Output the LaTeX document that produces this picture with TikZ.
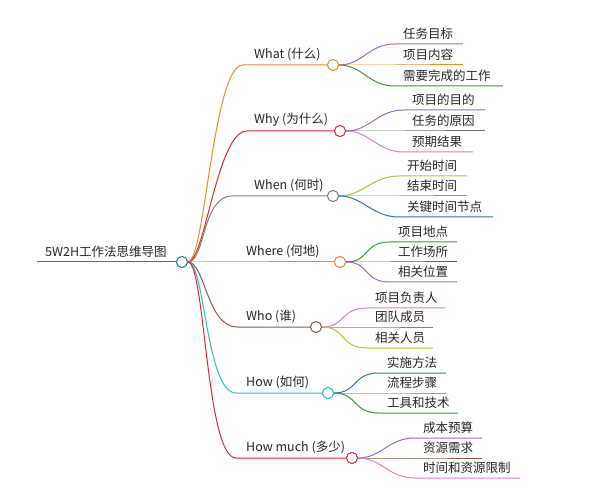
\documentclass[tikz,border=0pt]{standalone}
\usepackage{fontspec}
\setmainfont{Noto Sans CJK SC}
\definecolor{cBlue}{HTML}{2E75B6}
\definecolor{cOrange}{HTML}{F08A2C}
\definecolor{cRed}{HTML}{D62B3A}
\definecolor{cGray}{HTML}{7F7F7F}
\definecolor{cBrown}{HTML}{8C5A4A}
\definecolor{cCyan}{HTML}{26C0CF}
\definecolor{cPurple}{HTML}{9A6BC8}
\definecolor{cGreen}{HTML}{3A9A34}
\definecolor{cPink}{HTML}{DE7FCB}
\definecolor{cOlive}{HTML}{B8C23A}
\definecolor{cDark}{HTML}{7A6A6A}
\tikzset{
 dot/.style={circle,draw=#1,fill=white,line width=0.9pt,minimum size=11pt,inner sep=0pt},
 con/.style={draw=#1,line width=1pt},
 lbl/.style={anchor=south west,inner sep=0pt,font=\fontsize{12.5}{13}\selectfont,text=black!85}
}
\newcommand{\leaf}[7]{% parent, name, y, textx, endx, color, text
 \coordinate (#2e) at (#5,#3);
 \draw[con=#6] (#1) .. controls ($(#1)+(30,0)$) and (#4-35,#3) .. (#4-8,#3) -- (#2e);
 \node[lbl] (#2t) at (#4,#3-4) {#7};
}
\newcommand{\branch}[7]{% name, y, startx, circx, textx, color, text
 \node[dot=#6] (#1) at (#4,#2) {};
 \draw[con=#6] (root) .. controls (205,262) and (#3-30,#2) .. (#3,#2) -- (#1);
 \node[lbl] (#1t) at (#5,#2-4) {#7};
}
\usetikzlibrary{calc}
\begin{document}
\begin{tikzpicture}[x=1pt,y=-1pt]
\useasboundingbox (0,0) rectangle (606,500);
\coordinate (rs) at (37,262);
\node[dot=cBlue] (root) at (182,262) {};
\draw[con=cBlue] (rs) -- (root);
\node[lbl] (roott) at (45,258) {5W2H工作法思维导图};
\branch{what}{65}{243}{333}{254}{cOrange}{What (什么)}
\branch{why}{131}{247}{340}{254}{cRed}{Why (为什么)}
\branch{when}{196}{232}{333}{254}{cGray}{When (何时)}
\branch{where}{262}{200}{340}{246}{cOrange}{Where (何地)}
\branch{who}{327}{237}{316}{246}{cBrown}{Who (谁)}
\branch{how}{393}{236}{328}{246}{cCyan}{How (如何)}
\branch{hm}{458}{236}{352}{246}{cRed}{How much (多少)}
\node[dot=cBlue] at (root) {};
\leaf{what}{a1}{44}{403}{463}{cPurple}{任务目标}
\leaf{what}{a2}{65}{403}{463}{cOrange}{项目内容}
\leaf{what}{a3}{86}{403}{503}{cGreen}{需要完成的工作}
\leaf{why}{b1}{110}{412}{485}{cPurple}{项目的目的}
\leaf{why}{b2}{131}{412}{485}{cDark}{任务的原因}
\leaf{why}{b3}{152}{412}{473}{cPink}{预期结果}
\leaf{when}{c1}{176}{407}{467}{cOlive}{开始时间}
\leaf{when}{c2}{196}{407}{467}{cCyan}{结束时间}
\leaf{when}{c3}{217}{407}{493}{cBlue}{关键时间节点}
\leaf{where}{d1}{242}{398}{457}{cGreen}{项目地点}
\leaf{where}{d2}{262}{398}{457}{cRed}{工作场所}
\leaf{where}{d3}{282}{398}{457}{cPurple}{相关位置}
\leaf{who}{e1}{308}{375}{445}{cPink}{项目负责人}
\leaf{who}{e2}{327}{375}{433}{cGray}{团队成员}
\leaf{who}{e3}{348}{375}{433}{cOlive}{相关人员}
\leaf{how}{f1}{373}{387}{446}{cBlue}{实施方法}
\leaf{how}{f2}{393}{387}{446}{cOrange}{流程步骤}
\leaf{how}{f3}{413}{387}{458}{cGreen}{工具和技术}
\leaf{hm}{g1}{438}{423}{482}{cPurple}{成本预算}
\leaf{hm}{g2}{458}{423}{482}{cBrown}{资源需求}
\leaf{hm}{g3}{478}{423}{520}{cPink}{时间和资源限制}
\foreach \n/\c in {what/cOrange,why/cRed,when/cGray,where/cOrange,who/cBrown,how/cCyan,hm/cRed}
  \node[dot=\c] at (\n) {};
\end{tikzpicture}
\end{document}
